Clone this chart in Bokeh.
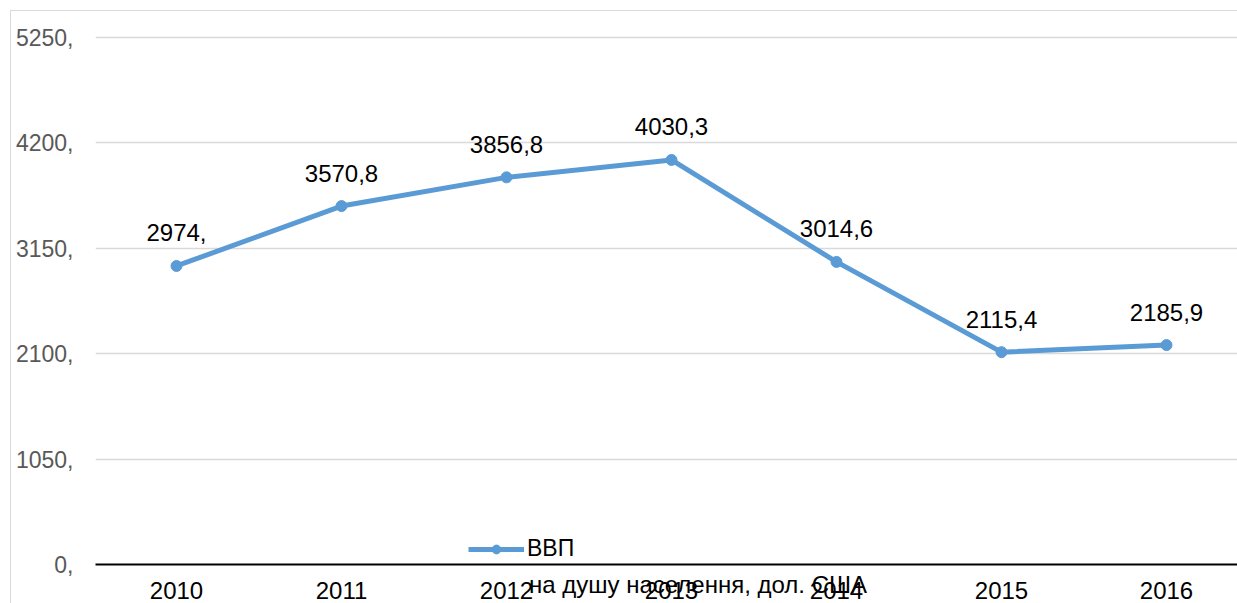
from bokeh.plotting import figure
from bokeh.models import (FixedTicker, Range1d, Legend, LegendItem,
                          ColumnDataSource, LinearAxis)
from bokeh.core.properties import value
from bokeh.embed import file_html
from bokeh.resources import INLINE

years = ["2010", "2011", "2012", "2013", "2014", "2015", "2016"]
gdp = [2974.0, 3570.8, 3856.8, 4030.3, 3014.6, 2115.4, 2185.9]
gdp_labels = ["2974,", "3570,8", "3856,8", "4030,3", "3014,6", "2115,4", "2185,9"]
y_ticks = [0, 1050, 2100, 3150, 4200, 5250]
y_tick_labels = ["0,", "1050,", "2100,", "3150,", "4200,", "5250,"]
series_name = "ВВП"
series_name_2 = "на душу населення, дол. США"

FONT = "Liberation Sans"
BLUE = "#5b9bd5"

xs = list(range(len(years)))
src = ColumnDataSource(dict(x=xs, y=gdp, lab=gdp_labels))

p = figure(width=1237, height=603, output_backend="svg", toolbar_location=None,
           x_range=Range1d(-0.4909, 6.4303), y_range=Range1d(0, 5270),
           min_border_left=95, min_border_right=0, min_border_top=35,
           min_border_bottom=39)
p.outline_line_color = None
p.background_fill_color = "white"
p.border_fill_color = None
# chart-area border (left and top edges visible)
p.styles = {"box-shadow": "inset 10px 10px 0 0 #ffffff, inset 11px 11px 0 0 #d9d9d9"}

p.xgrid.grid_line_color = None
p.ygrid.grid_line_color = "#d9d9d9"
p.ygrid.grid_line_width = 1.5
p.ygrid.ticker = FixedTicker(ticks=y_ticks)

p.yaxis.ticker = FixedTicker(ticks=y_ticks)
p.yaxis.major_label_overrides = {t: l for t, l in zip(y_ticks, y_tick_labels)}
p.yaxis.axis_line_color = None
p.yaxis.major_tick_line_color = None
p.yaxis.minor_tick_line_color = None
p.yaxis.major_label_standoff = 16
p.yaxis.major_label_text_font = FONT
p.yaxis.major_label_text_font_size = "23px"
p.yaxis.major_label_text_color = "#595959"

p.xaxis.ticker = FixedTicker(ticks=xs)
p.xaxis.major_label_overrides = {i: y for i, y in zip(xs, years)}
p.xaxis.axis_line_color = "black"
p.xaxis.axis_line_width = 2
p.xaxis.major_tick_line_color = None
p.xaxis.minor_tick_line_color = None
p.xaxis.major_label_standoff = 11
p.xaxis.major_label_text_font = FONT
p.xaxis.major_label_text_font_size = "24px"
p.xaxis.major_label_text_color = "black"

ln = p.line("x", "y", source=src, line_color=BLUE, line_width=5)
sc = p.scatter("x", "y", source=src, size=11, fill_color=BLUE, line_color=BLUE)
p.text("x", "y", text="lab", source=src, text_align="center",
       text_baseline="alphabetic", y_offset=-33, text_font=value(FONT),
       text_font_size="24px", text_color="black")

legend = Legend(items=[LegendItem(label=series_name, renderers=[ln, sc])],
                location=(373, 2), padding=0, margin=0, spacing=0,
                glyph_width=56, glyph_height=22, label_height=22,
                label_standoff=3, border_line_color=None,
                background_fill_alpha=0, label_text_font=FONT,
                label_text_font_size="23px", label_text_color="black")
p.add_layout(legend, "center")

# second line of the legend label, drawn as a lone tick label on an extra axis
legend_line2_x = 3.1606
ax2 = LinearAxis(ticker=FixedTicker(ticks=[legend_line2_x]),
                 major_label_overrides={legend_line2_x: series_name_2},
                 axis_line_color=None, major_tick_line_color=None,
                 minor_tick_line_color=None, major_label_standoff=-37,
                 major_label_text_font=FONT, major_label_text_font_size="24px",
                 major_label_text_color="black")
p.add_layout(ax2, "below")

open("out.html", "w").write(file_html(p, INLINE))
